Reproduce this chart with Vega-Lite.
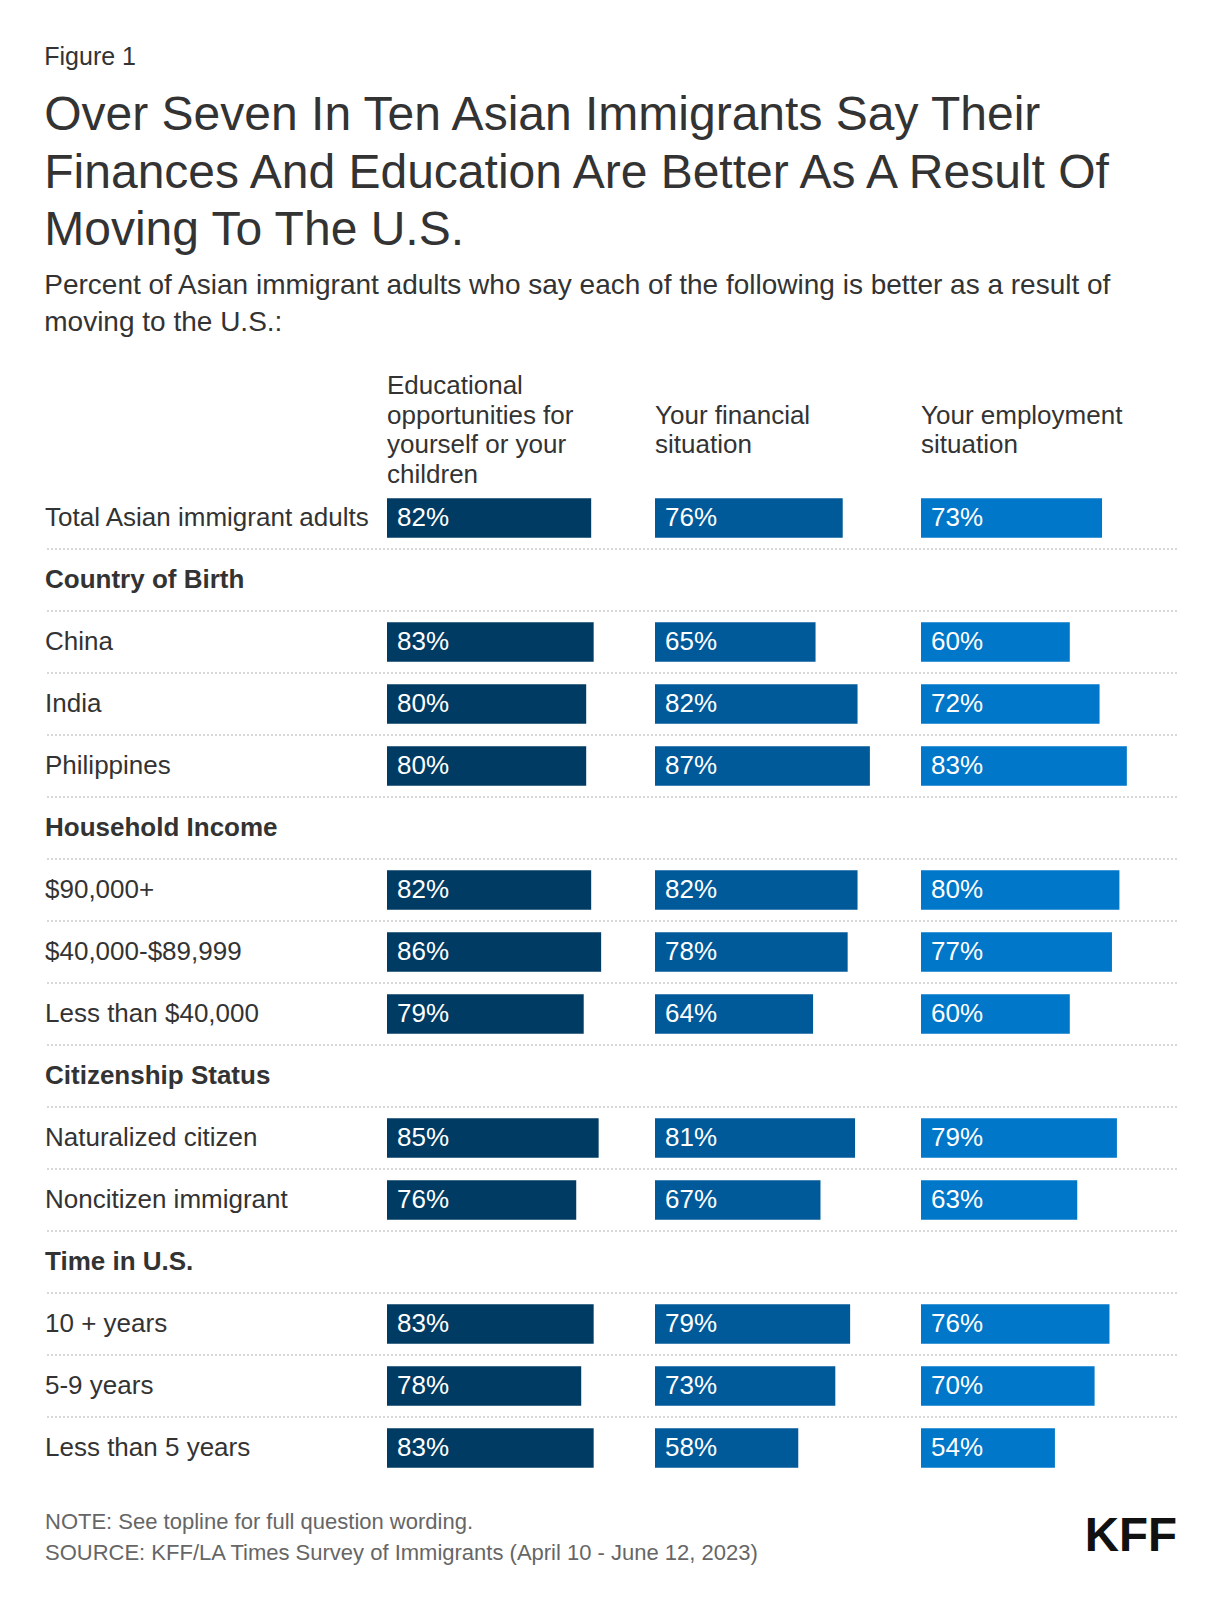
{
  "$schema": "https://vega.github.io/schema/vega-lite/v6.json",
  "padding": {"left": 44, "top": 45, "right": 44, "bottom": 40},
  "config": {"view": {"stroke": null}, "font": "Liberation Sans"},
  "title": {"text": "Figure 1", "anchor": "start", "fontSize": 25, "fontWeight": "normal", "color": "#333333", "offset": 22},
  "datasets": {
    "bars": [
      {"row": "Total Asian immigrant adults", "col": "edu", "value": 0.82},
      {"row": "Total Asian immigrant adults", "col": "fin", "value": 0.76},
      {"row": "Total Asian immigrant adults", "col": "emp", "value": 0.73},
      {"row": "China", "col": "edu", "value": 0.83},
      {"row": "China", "col": "fin", "value": 0.65},
      {"row": "China", "col": "emp", "value": 0.60},
      {"row": "India", "col": "edu", "value": 0.80},
      {"row": "India", "col": "fin", "value": 0.82},
      {"row": "India", "col": "emp", "value": 0.72},
      {"row": "Philippines", "col": "edu", "value": 0.80},
      {"row": "Philippines", "col": "fin", "value": 0.87},
      {"row": "Philippines", "col": "emp", "value": 0.83},
      {"row": "$90,000+", "col": "edu", "value": 0.82},
      {"row": "$90,000+", "col": "fin", "value": 0.82},
      {"row": "$90,000+", "col": "emp", "value": 0.80},
      {"row": "$40,000-$89,999", "col": "edu", "value": 0.86},
      {"row": "$40,000-$89,999", "col": "fin", "value": 0.78},
      {"row": "$40,000-$89,999", "col": "emp", "value": 0.77},
      {"row": "Less than $40,000", "col": "edu", "value": 0.79},
      {"row": "Less than $40,000", "col": "fin", "value": 0.64},
      {"row": "Less than $40,000", "col": "emp", "value": 0.60},
      {"row": "Naturalized citizen", "col": "edu", "value": 0.85},
      {"row": "Naturalized citizen", "col": "fin", "value": 0.81},
      {"row": "Naturalized citizen", "col": "emp", "value": 0.79},
      {"row": "Noncitizen immigrant", "col": "edu", "value": 0.76},
      {"row": "Noncitizen immigrant", "col": "fin", "value": 0.67},
      {"row": "Noncitizen immigrant", "col": "emp", "value": 0.63},
      {"row": "10 + years", "col": "edu", "value": 0.83},
      {"row": "10 + years", "col": "fin", "value": 0.79},
      {"row": "10 + years", "col": "emp", "value": 0.76},
      {"row": "5-9 years", "col": "edu", "value": 0.78},
      {"row": "5-9 years", "col": "fin", "value": 0.73},
      {"row": "5-9 years", "col": "emp", "value": 0.70},
      {"row": "Less than 5 years", "col": "edu", "value": 0.83},
      {"row": "Less than 5 years", "col": "fin", "value": 0.58},
      {"row": "Less than 5 years", "col": "emp", "value": 0.54}
    ],
    "headers": [
      {"row": "h0", "col": "edu", "text": "Educational\nopportunities for\nyourself or your\nchildren"},
      {"row": "h0", "col": "fin", "text": "Your financial\nsituation"},
      {"row": "h0", "col": "emp", "text": "Your employment\nsituation"}
    ],
    "rows": [
      {"row": "Total Asian immigrant adults", "kind": "item"},
      {"row": "Country of Birth", "kind": "group"},
      {"row": "China", "kind": "item"},
      {"row": "India", "kind": "item"},
      {"row": "Philippines", "kind": "item"},
      {"row": "Household Income", "kind": "group"},
      {"row": "$90,000+", "kind": "item"},
      {"row": "$40,000-$89,999", "kind": "item"},
      {"row": "Less than $40,000", "kind": "item"},
      {"row": "Citizenship Status", "kind": "group"},
      {"row": "Naturalized citizen", "kind": "item"},
      {"row": "Noncitizen immigrant", "kind": "item"},
      {"row": "Time in U.S.", "kind": "group"},
      {"row": "10 + years", "kind": "item"},
      {"row": "5-9 years", "kind": "item"},
      {"row": "Less than 5 years", "kind": "item"}
    ],
    "notes": [
      {"line": "NOTE: See topline for full question wording."},
      {"line": "SOURCE: KFF/LA Times Survey of Immigrants (April 10 - June 12, 2023)"}
    ],
    "logo": [{"name": "KFF"}]
  },
  "spacing": 27,
  "vconcat": [
    {
      "title": {
        "text": ["Over Seven In Ten Asian Immigrants Say Their", "Finances And Education Are Better As A Result Of", "Moving To The U.S."],
        "subtitle": ["Percent of Asian immigrant adults who say each of the following is better as a result of", "moving to the U.S.:"],
        "anchor": "start",
        "fontSize": 48,
        "fontWeight": "normal",
        "lineHeight": 57.4,
        "color": "#333333",
        "subtitleFontSize": 28,
        "subtitleLineHeight": 37,
        "subtitleColor": "#333333",
        "subtitlePadding": 17,
        "offset": 26
      },
      "width": 1132,
      "height": 1116,
      "resolve": {"scale": {"x": "independent"}},
      "layer": [
        {
          "data": {"name": "rows"},
          "transform": [{"filter": "datum.row != 'Less than 5 years'"}],
          "mark": {"type": "rule", "color": "#cccccc", "strokeWidth": 1.5, "strokeDash": [2, 2]},
          "encoding": {
            "y": {
              "field": "row", "type": "nominal", "bandPosition": 1, "axis": null,
              "scale": {"domain": ["h0", "h1", "Total Asian immigrant adults", "Country of Birth", "China", "India", "Philippines", "Household Income", "$90,000+", "$40,000-$89,999", "Less than $40,000", "Citizenship Status", "Naturalized citizen", "Noncitizen immigrant", "Time in U.S.", "10 + years", "5-9 years", "Less than 5 years"], "paddingInner": 0, "paddingOuter": 0}
            }
          }
        },
        {
          "data": {"name": "rows"},
          "encoding": {
            "y": {"field": "row", "type": "nominal", "axis": null, "scale": {"domain": ["h0", "h1", "Total Asian immigrant adults", "Country of Birth", "China", "India", "Philippines", "Household Income", "$90,000+", "$40,000-$89,999", "Less than $40,000", "Citizenship Status", "Naturalized citizen", "Noncitizen immigrant", "Time in U.S.", "10 + years", "5-9 years", "Less than 5 years"], "paddingInner": 0, "paddingOuter": 0}},
            "x": {"datum": 0, "type": "quantitative", "axis": null, "scale": {"domain": [0, 1], "nice": false}},
            "text": {"field": "row", "type": "nominal"}
          },
          "layer": [
            {
              "transform": [{"filter": "datum.kind == 'item'"}],
              "mark": {"type": "text", "align": "left", "baseline": "middle", "color": "#333333", "fontSize": 26}
            },
            {
              "transform": [{"filter": "datum.kind == 'group'"}],
              "mark": {"type": "text", "align": "left", "baseline": "middle", "color": "#333333", "fontSize": 26, "fontWeight": "bold"}
            }
          ]
        },
        {
          "layer": [
            {
              "data": {"name": "bars"},
              "transform": [{"filter": "datum.col == 'edu'"}],
              "mark": {"type": "bar", "color": "#003B63", "height": {"band": 0.64}},
              "encoding": {
                "y": {"field": "row", "type": "nominal", "axis": null, "scale": {"domain": ["h0", "h1", "Total Asian immigrant adults", "Country of Birth", "China", "India", "Philippines", "Household Income", "$90,000+", "$40,000-$89,999", "Less than $40,000", "Citizenship Status", "Naturalized citizen", "Noncitizen immigrant", "Time in U.S.", "10 + years", "5-9 years", "Less than 5 years"], "paddingInner": 0, "paddingOuter": 0}},
                "x": {"field": "value", "type": "quantitative", "axis": null, "scale": {"domain": [0, 1], "range": [342, 591], "nice": false}}
              }
            },
            {
              "data": {"name": "bars"},
              "transform": [{"filter": "datum.col == 'edu'"}],
              "mark": {"type": "text", "align": "left", "baseline": "middle", "dx": 10, "color": "white", "fontSize": 26},
              "encoding": {
                "y": {"field": "row", "type": "nominal", "axis": null, "scale": {"domain": ["h0", "h1", "Total Asian immigrant adults", "Country of Birth", "China", "India", "Philippines", "Household Income", "$90,000+", "$40,000-$89,999", "Less than $40,000", "Citizenship Status", "Naturalized citizen", "Noncitizen immigrant", "Time in U.S.", "10 + years", "5-9 years", "Less than 5 years"], "paddingInner": 0, "paddingOuter": 0}},
                "x": {"datum": 0, "type": "quantitative", "axis": null, "scale": {"domain": [0, 1], "range": [342, 591], "nice": false}},
                "text": {"field": "value", "type": "quantitative", "format": ".0%"}
              }
            },
            {
              "data": {"name": "headers"},
              "transform": [{"filter": "datum.col == 'edu'"}],
              "mark": {"type": "text", "align": "left", "baseline": "middle", "lineBreak": "\n", "lineHeight": 29.7, "dy": -39, "color": "#333333", "fontSize": 26},
              "encoding": {
                "y": {"field": "row", "type": "nominal", "bandPosition": 1, "axis": null, "scale": {"domain": ["h0", "h1", "Total Asian immigrant adults", "Country of Birth", "China", "India", "Philippines", "Household Income", "$90,000+", "$40,000-$89,999", "Less than $40,000", "Citizenship Status", "Naturalized citizen", "Noncitizen immigrant", "Time in U.S.", "10 + years", "5-9 years", "Less than 5 years"], "paddingInner": 0, "paddingOuter": 0}},
                "x": {"datum": 0, "type": "quantitative", "axis": null, "scale": {"domain": [0, 1], "range": [342, 591], "nice": false}},
                "text": {"field": "text", "type": "nominal"}
              }
            }
          ]
        },
        {
          "layer": [
            {
              "data": {"name": "bars"},
              "transform": [{"filter": "datum.col == 'fin'"}],
              "mark": {"type": "bar", "color": "#005A9A", "height": {"band": 0.64}},
              "encoding": {
                "y": {"field": "row", "type": "nominal", "axis": null, "scale": {"domain": ["h0", "h1", "Total Asian immigrant adults", "Country of Birth", "China", "India", "Philippines", "Household Income", "$90,000+", "$40,000-$89,999", "Less than $40,000", "Citizenship Status", "Naturalized citizen", "Noncitizen immigrant", "Time in U.S.", "10 + years", "5-9 years", "Less than 5 years"], "paddingInner": 0, "paddingOuter": 0}},
                "x": {"field": "value", "type": "quantitative", "axis": null, "scale": {"domain": [0, 1], "range": [610, 857], "nice": false}}
              }
            },
            {
              "data": {"name": "bars"},
              "transform": [{"filter": "datum.col == 'fin'"}],
              "mark": {"type": "text", "align": "left", "baseline": "middle", "dx": 10, "color": "white", "fontSize": 26},
              "encoding": {
                "y": {"field": "row", "type": "nominal", "axis": null, "scale": {"domain": ["h0", "h1", "Total Asian immigrant adults", "Country of Birth", "China", "India", "Philippines", "Household Income", "$90,000+", "$40,000-$89,999", "Less than $40,000", "Citizenship Status", "Naturalized citizen", "Noncitizen immigrant", "Time in U.S.", "10 + years", "5-9 years", "Less than 5 years"], "paddingInner": 0, "paddingOuter": 0}},
                "x": {"datum": 0, "type": "quantitative", "axis": null, "scale": {"domain": [0, 1], "range": [610, 857], "nice": false}},
                "text": {"field": "value", "type": "quantitative", "format": ".0%"}
              }
            },
            {
              "data": {"name": "headers"},
              "transform": [{"filter": "datum.col == 'fin'"}],
              "mark": {"type": "text", "align": "left", "baseline": "middle", "lineBreak": "\n", "lineHeight": 29.7, "dy": -9.5, "color": "#333333", "fontSize": 26},
              "encoding": {
                "y": {"field": "row", "type": "nominal", "bandPosition": 1, "axis": null, "scale": {"domain": ["h0", "h1", "Total Asian immigrant adults", "Country of Birth", "China", "India", "Philippines", "Household Income", "$90,000+", "$40,000-$89,999", "Less than $40,000", "Citizenship Status", "Naturalized citizen", "Noncitizen immigrant", "Time in U.S.", "10 + years", "5-9 years", "Less than 5 years"], "paddingInner": 0, "paddingOuter": 0}},
                "x": {"datum": 0, "type": "quantitative", "axis": null, "scale": {"domain": [0, 1], "range": [610, 857], "nice": false}},
                "text": {"field": "text", "type": "nominal"}
              }
            }
          ]
        },
        {
          "layer": [
            {
              "data": {"name": "bars"},
              "transform": [{"filter": "datum.col == 'emp'"}],
              "mark": {"type": "bar", "color": "#0077C8", "height": {"band": 0.64}},
              "encoding": {
                "y": {"field": "row", "type": "nominal", "axis": null, "scale": {"domain": ["h0", "h1", "Total Asian immigrant adults", "Country of Birth", "China", "India", "Philippines", "Household Income", "$90,000+", "$40,000-$89,999", "Less than $40,000", "Citizenship Status", "Naturalized citizen", "Noncitizen immigrant", "Time in U.S.", "10 + years", "5-9 years", "Less than 5 years"], "paddingInner": 0, "paddingOuter": 0}},
                "x": {"field": "value", "type": "quantitative", "axis": null, "scale": {"domain": [0, 1], "range": [876, 1124], "nice": false}}
              }
            },
            {
              "data": {"name": "bars"},
              "transform": [{"filter": "datum.col == 'emp'"}],
              "mark": {"type": "text", "align": "left", "baseline": "middle", "dx": 10, "color": "white", "fontSize": 26},
              "encoding": {
                "y": {"field": "row", "type": "nominal", "axis": null, "scale": {"domain": ["h0", "h1", "Total Asian immigrant adults", "Country of Birth", "China", "India", "Philippines", "Household Income", "$90,000+", "$40,000-$89,999", "Less than $40,000", "Citizenship Status", "Naturalized citizen", "Noncitizen immigrant", "Time in U.S.", "10 + years", "5-9 years", "Less than 5 years"], "paddingInner": 0, "paddingOuter": 0}},
                "x": {"datum": 0, "type": "quantitative", "axis": null, "scale": {"domain": [0, 1], "range": [876, 1124], "nice": false}},
                "text": {"field": "value", "type": "quantitative", "format": ".0%"}
              }
            },
            {
              "data": {"name": "headers"},
              "transform": [{"filter": "datum.col == 'emp'"}],
              "mark": {"type": "text", "align": "left", "baseline": "middle", "lineBreak": "\n", "lineHeight": 29.7, "dy": -9.5, "color": "#333333", "fontSize": 26},
              "encoding": {
                "y": {"field": "row", "type": "nominal", "bandPosition": 1, "axis": null, "scale": {"domain": ["h0", "h1", "Total Asian immigrant adults", "Country of Birth", "China", "India", "Philippines", "Household Income", "$90,000+", "$40,000-$89,999", "Less than $40,000", "Citizenship Status", "Naturalized citizen", "Noncitizen immigrant", "Time in U.S.", "10 + years", "5-9 years", "Less than 5 years"], "paddingInner": 0, "paddingOuter": 0}},
                "x": {"datum": 0, "type": "quantitative", "axis": null, "scale": {"domain": [0, 1], "range": [876, 1124], "nice": false}},
                "text": {"field": "text", "type": "nominal"}
              }
            }
          ]
        }
      ]
    },
    {
      "width": 1132,
      "height": 62,
      "layer": [
        {
          "data": {"name": "notes"},
          "mark": {"type": "text", "align": "left", "baseline": "middle", "fontSize": 22, "color": "#666666"},
          "encoding": {
            "y": {"field": "line", "type": "nominal", "sort": null, "axis": null, "scale": {"paddingInner": 0, "paddingOuter": 0}},
            "x": {"datum": 0, "type": "quantitative", "axis": null, "scale": {"domain": [0, 1], "nice": false}},
            "text": {"field": "line", "type": "nominal"}
          }
        },
        {
          "data": {"name": "logo"},
          "mark": {"type": "text", "align": "right", "baseline": "middle", "fontSize": 47.5, "fontWeight": "bold", "color": "#111111"},
          "encoding": {
            "x": {"datum": 1, "type": "quantitative", "axis": null, "scale": {"domain": [0, 1], "nice": false}},
            "text": {"field": "name", "type": "nominal"}
          }
        }
      ]
    }
  ]
}
